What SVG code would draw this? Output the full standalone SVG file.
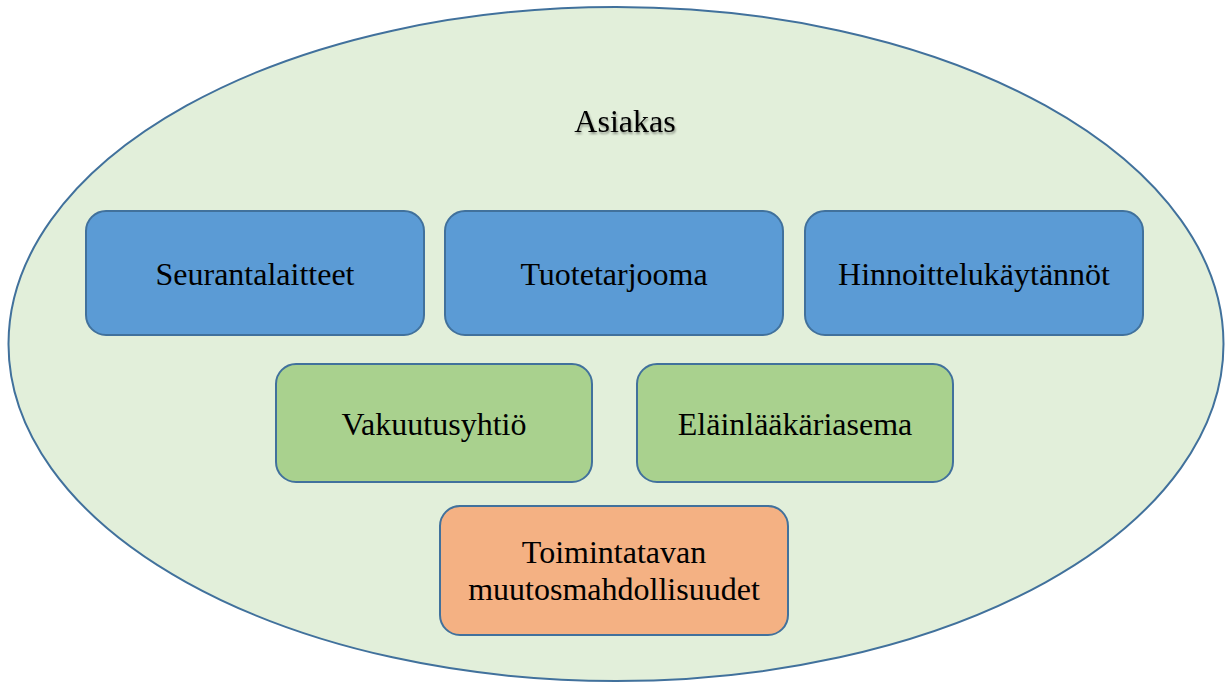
<svg xmlns="http://www.w3.org/2000/svg" width="1225" height="684" viewBox="0 0 1225 684">
<defs>
<style>
.box{stroke:#41719C;stroke-width:2}
.blue{fill:#5B9BD5}
.green{fill:#A9D18E}
.orange{fill:#F4B183}
text{font-family:"Liberation Serif","Times New Roman",serif;font-size:32px;fill:#000;text-anchor:middle}
</style>
<filter id="sh" x="-10%" y="-30%" width="120%" height="160%">
<feGaussianBlur in="SourceAlpha" stdDeviation="1"/>
<feOffset dx="1" dy="1.5" result="b"/>
<feComponentTransfer><feFuncA type="linear" slope="0.4"/></feComponentTransfer>
<feMerge><feMergeNode/><feMergeNode in="SourceGraphic"/></feMerge>
</filter>
</defs>
<rect width="1225" height="684" fill="#fff"/>
<g id="asiakas">
<ellipse cx="616" cy="344" rx="607.5" ry="337" fill="#E2EFDA" stroke="#41719C" stroke-width="2"/>
<text x="625" y="132" filter="url(#sh)">Asiakas</text>
</g>
<g id="seurantalaitteet">
<rect class="box blue" x="86" y="211" width="338" height="124" rx="20"/>
<text x="255" y="285">Seurantalaitteet</text>
</g>
<g id="tuotetarjooma">
<rect class="box blue" x="445" y="211" width="338" height="124" rx="20"/>
<text x="614" y="285">Tuotetarjooma</text>
</g>
<g id="hinnoittelukaytannot">
<rect class="box blue" x="805" y="211" width="338" height="124" rx="20"/>
<text x="974" y="285">Hinnoittelukäytännöt</text>
</g>
<g id="vakuutusyhtio">
<rect class="box green" x="276" y="364" width="316" height="118" rx="20"/>
<text x="434" y="435">Vakuutusyhtiö</text>
</g>
<g id="elainlaakariasema">
<rect class="box green" x="637" y="364" width="316" height="118" rx="20"/>
<text x="795" y="435">Eläinlääkäriasema</text>
</g>
<g id="toimintatavan">
<rect class="box orange" x="440" y="506" width="348" height="129" rx="20"/>
<text x="614" y="563">Toimintatavan</text>
<text x="614" y="600">muutosmahdollisuudet</text>
</g>
<g id="connectors"></g>
</svg>
